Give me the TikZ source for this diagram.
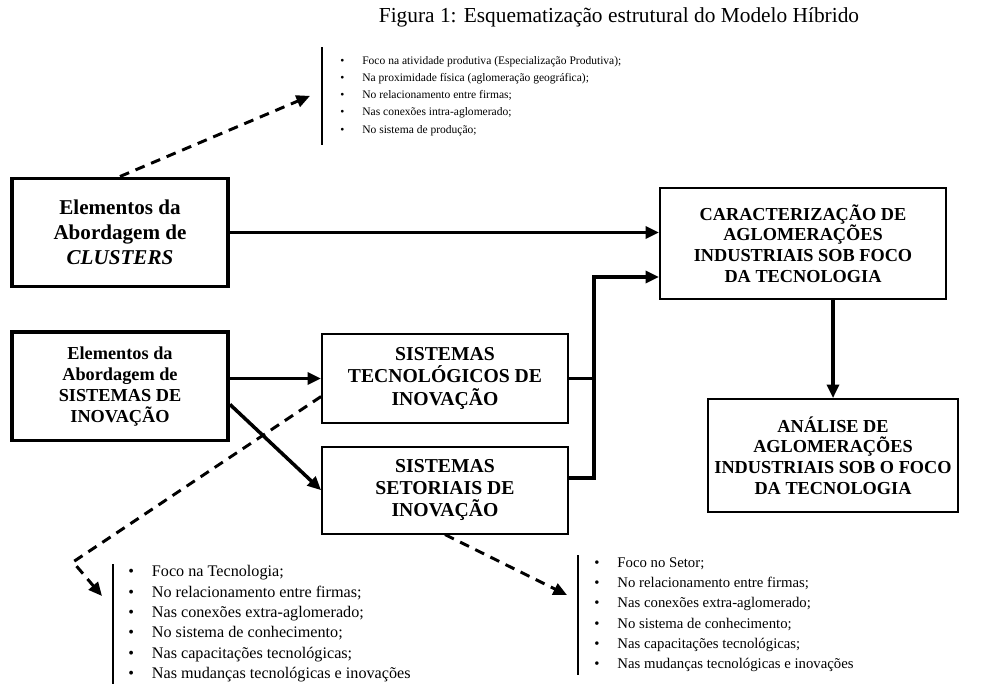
\documentclass[tikz,border=0pt]{standalone}
\usepackage{fontspec}
\setmainfont{Liberation Serif}
\usetikzlibrary{arrows.meta, positioning, calc}

\begin{document}
\begin{tikzpicture}[
    x=0.025cm, y=-0.025cm,
    >={Triangle[length=0.34cm, width=0.3cm]},
    every node/.style={align=center},
    sourcebox/.style={rectangle, draw, line width=2.8pt,
        minimum width=5.4cm, minimum height=2.7cm},
    systembox/.style={rectangle, draw, line width=1.2pt,
        minimum width=6.15cm, font=\fontsize{14}{15.8}\selectfont\bfseries},
    resultbox/.style={rectangle, draw, line width=1.2pt,
        font=\fontsize{13}{14.8}\selectfont\bfseries},
    arrow/.style={->, line width=2.5pt},
    thickline/.style={line width=2.5pt},
    dashedarrow/.style={->, line width=2.1pt, dash pattern=on 7pt off 5pt},
    listbar/.style={line width=1pt},
    bulletlist/.style={anchor=north west, inner xsep=0pt, align=left},
]
\useasboundingbox (0,0) rectangle (982,697);

% === TITLE ===
\node[font=\fontsize{15.2}{18}\selectfont] (title) at (619,17)
    {Figura 1: Esquematização estrutural do Modelo Híbrido};

% === APPROACHES ===
\node[sourcebox, font=\fontsize{15}{17.8}\selectfont\bfseries] (clusters) at (120,232.5)
    {Elementos da\\Abordagem de\\\textit{CLUSTERS}};
\node[sourcebox, below=1.05cm of clusters, font=\fontsize{13}{15}\selectfont\bfseries] (sisinov)
    {Elementos da\\Abordagem de\\SISTEMAS DE\\INOVAÇÃO};

% === SYSTEMS ===
\node[systembox, minimum height=2.225cm] (tecno) at (445,378.5)
    {SISTEMAS\\TECNOLÓGICOS DE\\INOVAÇÃO};
\node[systembox, minimum height=2.175cm, below=0.55cm of tecno] (setor)
    {SISTEMAS\\SETORIAIS DE\\INOVAÇÃO};

% === RESULTS ===
\node[resultbox, minimum width=7.15cm, minimum height=2.775cm] (caract) at (803,243.5)
    {CARACTERIZAÇÃO DE\\AGLOMERAÇÕES\\INDUSTRIAIS SOB FOCO\\DA TECNOLOGIA};
\node[resultbox, minimum width=6.25cm, minimum height=2.825cm] (analise) at (833,455.5)
    {ANÁLISE DE\\AGLOMERAÇÕES\\INDUSTRIAIS SOB O FOCO\\DA TECNOLOGIA};

% === FOCUS LISTS ===
\node[bulletlist, inner ysep=0.22cm, font=\fontsize{8.2}{12.3}\selectfont] (clusterfocus) at (340,47)
    {\textbullet\hspace{0.45cm}Foco na atividade produtiva (Especialização Produtiva);\\
     \textbullet\hspace{0.45cm}Na proximidade física (aglomeração geográfica);\\
     \textbullet\hspace{0.45cm}No relacionamento entre firmas;\\
     \textbullet\hspace{0.45cm}Nas conexões intra-aglomerado;\\
     \textbullet\hspace{0.45cm}No sistema de produção;};
\node[bulletlist, inner ysep=0.03cm, font=\fontsize{11.5}{14.5}\selectfont] (techfocus) at (128,564)
    {\textbullet\hspace{0.45cm}Foco na Tecnologia;\\
     \textbullet\hspace{0.45cm}No relacionamento entre firmas;\\
     \textbullet\hspace{0.45cm}Nas conexões extra-aglomerado;\\
     \textbullet\hspace{0.45cm}No sistema de conhecimento;\\
     \textbullet\hspace{0.45cm}Nas capacitações tecnológicas;\\
     \textbullet\hspace{0.45cm}Nas mudanças tecnológicas e inovações};
\node[bulletlist, inner ysep=0.06cm, font=\fontsize{10.5}{14.4}\selectfont] (sectorfocus) at (594,555)
    {\textbullet\hspace{0.45cm}Foco no Setor;\\
     \textbullet\hspace{0.45cm}No relacionamento entre firmas;\\
     \textbullet\hspace{0.45cm}Nas conexões extra-aglomerado;\\
     \textbullet\hspace{0.45cm}No sistema de conhecimento;\\
     \textbullet\hspace{0.45cm}Nas capacitações tecnológicas;\\
     \textbullet\hspace{0.45cm}Nas mudanças tecnológicas e inovações};

% list bars
\draw[listbar] ([xshift=-0.45cm]clusterfocus.north west) -- ([xshift=-0.45cm]clusterfocus.south west);
\draw[listbar] ([xshift=-0.375cm]techfocus.north west) -- ([xshift=-0.375cm]techfocus.south west);
\draw[listbar] ([xshift=-0.4cm]sectorfocus.north west) -- ([xshift=-0.4cm]sectorfocus.south west);

% === ARROWS ===
\coordinate (joint) at (594,277);
\coordinate (techbend) at (73,562);
\coordinate (techtip) at (102,596);
\coordinate (sectortip) at (567,595);

\draw[arrow] (clusters.east) -- (clusters.east -| caract.west);
\draw[arrow] (tecno.west -| sisinov.east) -- (tecno.west);
\draw[arrow] ([yshift=-0.45cm]sisinov.east) -- (setor.west);
\draw[thickline] (tecno.east) -- (tecno.east -| joint);
\draw[arrow] ([yshift=0.3cm]setor.east) -| (joint) -- (joint -| caract.west);
\draw[arrow] (caract.south -| analise.north) -- (analise.north);

% focus of each approach
\draw[dashedarrow] (clusters.north) -- ([xshift=-0.75cm]clusterfocus.west);
\draw[dashedarrow] ([yshift=-0.45cm]tecno.west) -- (techbend) -- (techtip);
\draw[dashedarrow] (setor.south) -- (sectortip);

\end{tikzpicture}
\end{document}
